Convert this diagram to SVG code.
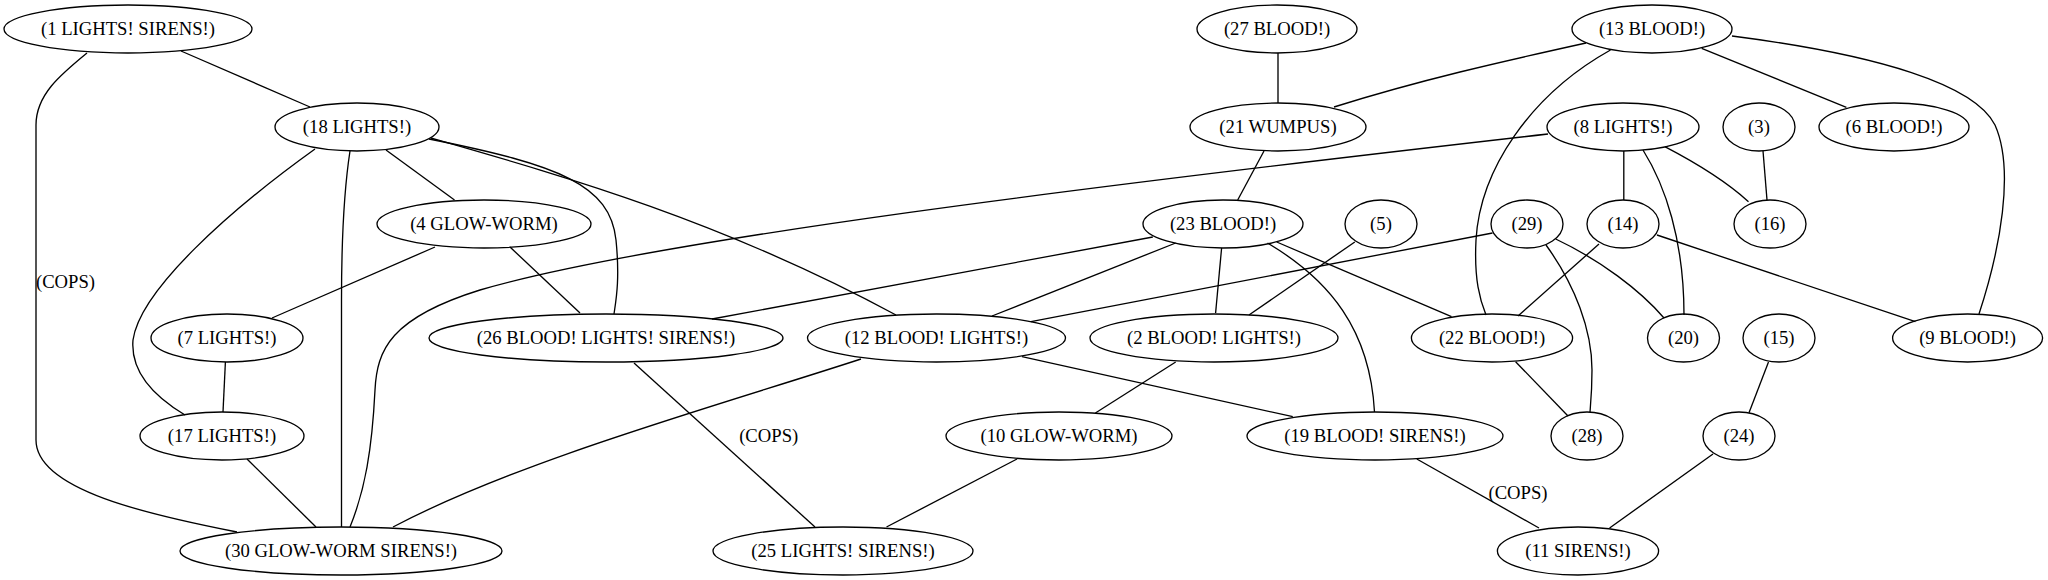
<svg xmlns="http://www.w3.org/2000/svg" width="2048" height="580" viewBox="0 0 2048 580" font-family="'Liberation Serif', 'Times New Roman', 'DejaVu Serif', serif">
<style>
.n ellipse{fill:none;stroke:#000;stroke-width:1.33}
text{font-family:'Liberation Serif','Times New Roman','DejaVu Serif',serif;font-size:18.67px;text-anchor:middle;fill:#000}
.e path{fill:none;stroke:#000;stroke-width:1.33}
</style>
<rect width="2048" height="580" fill="#fff"/>
<g id="edges" class="e">
<path d="M181,51 L310,107"/>
<path d="M87,53 C60,75 36,95 36,125 L36,440 C36,490 150,515 237,532"/>
<path d="M386,150 L454.5,200"/>
<path d="M315,149 C230,210 140,290 133,340 C130,375 160,400 185,415"/>
<path d="M350,151 C344,190 341.5,240 341.5,300 L341.5,527"/>
<path d="M429,139 C560,165 610,185 616,240 C620,280 616,300 614,314"/>
<path d="M431,138 C560,175 720,220 896,315"/>
<path d="M435,247 L272,318"/>
<path d="M510,247 L580,313"/>
<path d="M225.4,362 L223,412"/>
<path d="M247,459 L316,527"/>
<path d="M1548,134 C1100,185 650,240 480,290 C390,318 377,350 375,390 C372,450 365,490 350,527"/>
<path d="M861,359 C720,405 520,460 393,527"/>
<path d="M634,363 L815,527"/>
<path d="M1278,53 L1278,103"/>
<path d="M1586,43 C1500,62 1420,80 1334,107"/>
<path d="M1610.5,50 C1530,95 1480,170 1476,240 C1474,280 1480,300 1486,315"/>
<path d="M1701.7,48.3 L1846.4,107.3"/>
<path d="M1732,36 C1880,55 1975,85 1995,125 C2015,170 2000,250 1979,314"/>
<path d="M1264,151 L1237.7,200"/>
<path d="M1152.8,237 L712,319"/>
<path d="M1175.7,243 L992,316"/>
<path d="M1221.6,248 L1215.6,313"/>
<path d="M1276.7,242 L1451.5,316.7"/>
<path d="M1267.5,243 C1330,280 1370,330 1374.5,412"/>
<path d="M1354.8,242 L1249,315"/>
<path d="M1492.5,233 L1031,321.7"/>
<path d="M1546,245 C1575,285 1592,330 1592,370 C1592,390 1591,400 1590,412"/>
<path d="M1555.7,239 C1600,260 1640,290 1664,318"/>
<path d="M1623.8,151 L1623.8,200"/>
<path d="M1643,150 C1665,185 1684,240 1684,315"/>
<path d="M1664.8,146.7 C1700,165 1730,185 1748.5,201.7"/>
<path d="M1763,150.7 L1767,200"/>
<path d="M1599,244 L1518,316"/>
<path d="M1657,235 L1915.4,321.7"/>
<path d="M1022,356.7 L1292.8,416.7"/>
<path d="M1175.7,362 L1095.4,413"/>
<path d="M1017,459 L886.5,527"/>
<path d="M1515.6,361.7 L1568,416"/>
<path d="M1416.8,459 L1539,528"/>
<path d="M1768.5,362 L1749,412.7"/>
<path d="M1713,454 L1609.6,528"/>
<text x="65.5" y="288">(COPS)</text>
<text x="768.7" y="442">(COPS)</text>
<text x="1518" y="499">(COPS)</text>
</g>
<g id="n1" class="n"><ellipse cx="128" cy="29" rx="124" ry="24"/><text x="128" y="35">(1 LIGHTS! SIRENS!)</text></g>
<g id="n27" class="n"><ellipse cx="1277" cy="29" rx="80" ry="24"/><text x="1277" y="35">(27 BLOOD!)</text></g>
<g id="n13" class="n"><ellipse cx="1652" cy="29" rx="80" ry="24"/><text x="1652" y="35">(13 BLOOD!)</text></g>
<g id="n18" class="n"><ellipse cx="357" cy="127" rx="82" ry="24"/><text x="357" y="133">(18 LIGHTS!)</text></g>
<g id="n21" class="n"><ellipse cx="1278" cy="127" rx="88" ry="24"/><text x="1278" y="133">(21 WUMPUS)</text></g>
<g id="n8" class="n"><ellipse cx="1623" cy="127" rx="76" ry="24"/><text x="1623" y="133">(8 LIGHTS!)</text></g>
<g id="n3" class="n"><ellipse cx="1759" cy="127" rx="36" ry="24"/><text x="1759" y="133">(3)</text></g>
<g id="n6" class="n"><ellipse cx="1894" cy="127" rx="75" ry="24"/><text x="1894" y="133">(6 BLOOD!)</text></g>
<g id="n4" class="n"><ellipse cx="484" cy="224" rx="107" ry="24"/><text x="484" y="230">(4 GLOW-WORM)</text></g>
<g id="n23" class="n"><ellipse cx="1223" cy="224" rx="80" ry="24"/><text x="1223" y="230">(23 BLOOD!)</text></g>
<g id="n5" class="n"><ellipse cx="1381" cy="224" rx="36" ry="24"/><text x="1381" y="230">(5)</text></g>
<g id="n29" class="n"><ellipse cx="1527" cy="224" rx="36" ry="24"/><text x="1527" y="230">(29)</text></g>
<g id="n14" class="n"><ellipse cx="1623" cy="224" rx="36" ry="24"/><text x="1623" y="230">(14)</text></g>
<g id="n16" class="n"><ellipse cx="1770" cy="224" rx="36" ry="24"/><text x="1770" y="230">(16)</text></g>
<g id="n7" class="n"><ellipse cx="227" cy="338" rx="76" ry="24"/><text x="227" y="344">(7 LIGHTS!)</text></g>
<g id="n26" class="n"><ellipse cx="606" cy="338" rx="177" ry="24"/><text x="606" y="344">(26 BLOOD! LIGHTS! SIRENS!)</text></g>
<g id="n12" class="n"><ellipse cx="936.5" cy="338" rx="129" ry="24"/><text x="936.5" y="344">(12 BLOOD! LIGHTS!)</text></g>
<g id="n2" class="n"><ellipse cx="1214" cy="338" rx="124" ry="24"/><text x="1214" y="344">(2 BLOOD! LIGHTS!)</text></g>
<g id="n22" class="n"><ellipse cx="1492" cy="338" rx="80.6" ry="24"/><text x="1492" y="344">(22 BLOOD!)</text></g>
<g id="n20" class="n"><ellipse cx="1683.5" cy="338" rx="36" ry="24"/><text x="1683.5" y="344">(20)</text></g>
<g id="n15" class="n"><ellipse cx="1779" cy="338" rx="36" ry="24"/><text x="1779" y="344">(15)</text></g>
<g id="n9" class="n"><ellipse cx="1967.6" cy="338" rx="75" ry="24"/><text x="1967.6" y="344">(9 BLOOD!)</text></g>
<g id="n17" class="n"><ellipse cx="222" cy="436" rx="82" ry="24"/><text x="222" y="442">(17 LIGHTS!)</text></g>
<g id="n10" class="n"><ellipse cx="1059" cy="436" rx="113" ry="24"/><text x="1059" y="442">(10 GLOW-WORM)</text></g>
<g id="n19" class="n"><ellipse cx="1375" cy="436" rx="128" ry="24"/><text x="1375" y="442">(19 BLOOD! SIRENS!)</text></g>
<g id="n28" class="n"><ellipse cx="1587" cy="436" rx="36" ry="24"/><text x="1587" y="442">(28)</text></g>
<g id="n24" class="n"><ellipse cx="1739" cy="436" rx="36" ry="24"/><text x="1739" y="442">(24)</text></g>
<g id="n30" class="n"><ellipse cx="341" cy="551" rx="161" ry="24"/><text x="341" y="557">(30 GLOW-WORM SIRENS!)</text></g>
<g id="n25" class="n"><ellipse cx="843" cy="551" rx="130" ry="24"/><text x="843" y="557">(25 LIGHTS! SIRENS!)</text></g>
<g id="n11" class="n"><ellipse cx="1578" cy="551" rx="80.6" ry="24"/><text x="1578" y="557">(11 SIRENS!)</text></g>
</svg>
